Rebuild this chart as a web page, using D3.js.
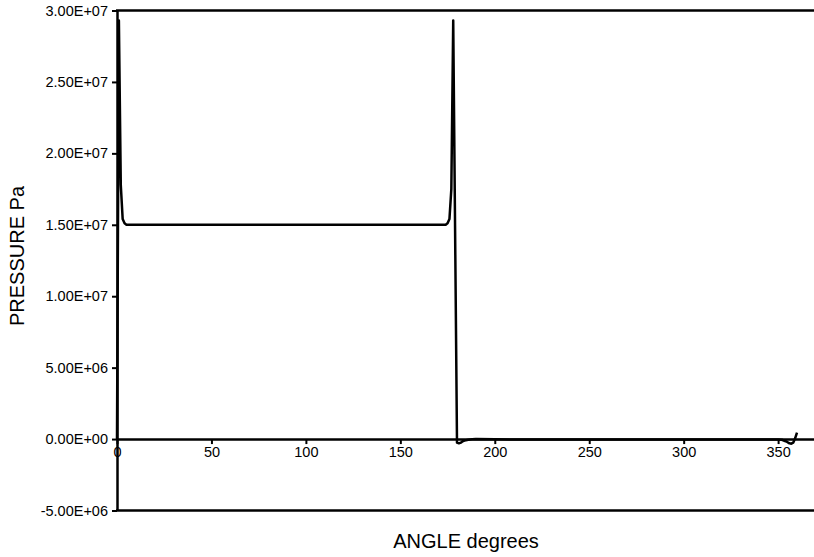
<!DOCTYPE html>
<html>
<head>
<meta charset="utf-8">
<script src="https://cdn.jsdelivr.net/npm/d3@7"></script>
<style>
  html, body { margin: 0; padding: 0; background: #fff; }
  svg { display: block; font-family: "Liberation Sans", Arial, Helvetica, sans-serif; }
</style>
</head>
<body>
<svg id="chart" width="814" height="557"></svg>
<script>
// Crank angle (degrees) and chamber pressure (Pa)
const angles = [0, 1, 2, 3, 4, 5, 6, 8, 10, 20, 30, 40, 50, 60, 70, 80, 90, 100, 110, 120,
  130, 140, 150, 160, 170, 172, 174, 175, 176, 177, 178, 179, 180, 181, 182, 183, 184, 186,
  188, 190, 200, 210, 220, 230, 240, 250, 260, 270, 280, 290, 300, 310, 320, 330, 340, 345,
  350, 352, 354, 355, 356, 357, 358, 359, 360];
const pressure = [0, 2.93e7, 1.78e7, 1.54e7, 1.51e7, 1.50e7, 1.50e7, 1.50e7, 1.50e7, 1.50e7,
  1.50e7, 1.50e7, 1.50e7, 1.50e7, 1.50e7, 1.50e7, 1.50e7, 1.50e7, 1.50e7, 1.50e7,
  1.50e7, 1.50e7, 1.50e7, 1.50e7, 1.50e7, 1.50e7, 1.50e7, 1.51e7, 1.54e7, 1.75e7,
  2.93e7, 1.45e7, -2.5e5, -3.0e5, -2.5e5, -1.5e5, -1.0e5, -5e4,
  -2e4, 0, -2e4, -3e4, -3e4, -3e4, -3e4, -3e4, -3e4, -3e4, -3e4, -3e4, -3e4, -3e4,
  -3e4, -3e4, -3e4, -3e4, -3e4, -5e4, -1.5e5, -2.2e5, -3.0e5, -3.2e5, -2.5e5, 5e4, 4.5e5];

const xTicks = [0, 50, 100, 150, 200, 250, 300, 350];
const yTicks = [-5e6, 0, 5e6, 1e7, 1.5e7, 2e7, 2.5e7, 3e7];

const xTitle = "ANGLE degrees";
const yTitle = "PRESSURE Pa";

const svg = d3.select("#chart");
const plotLeft = 117, plotRight = 814, plotTop = 10.5, plotBottom = 510.5;

const x = d3.scaleLinear().domain([0, 369]).range([plotLeft, plotRight]);
const y = d3.scaleLinear().domain([-5e6, 3e7]).range([plotBottom, plotTop]);

// Excel-style scientific labels, e.g. 1.50E+07
const sci = v => {
  const [m, e] = v.toExponential(2).split("e");
  const sign = e[0] === "-" ? "-" : "+";
  const ex = e.replace(/^[+-]/, "").padStart(2, "0");
  return `${m}E${sign}${ex}`;
};

// top and bottom frame lines
svg.append("line").attr("x1", plotLeft - 1).attr("x2", plotRight).attr("y1", plotTop).attr("y2", plotTop)
  .attr("stroke", "#000").attr("stroke-width", 2.5);
svg.append("line").attr("x1", plotLeft - 1).attr("x2", plotRight).attr("y1", plotBottom).attr("y2", plotBottom)
  .attr("stroke", "#000").attr("stroke-width", 2.5);

// y axis
const yAxis = svg.append("g")
  .attr("transform", `translate(${plotLeft},0)`)
  .call(d3.axisLeft(y).tickValues(yTicks).tickFormat(sci).tickSize(5).tickSizeOuter(0).tickPadding(4));
yAxis.select(".domain").attr("stroke-width", 2.5);
yAxis.selectAll(".tick line").attr("stroke-width", 2);
yAxis.selectAll("text").attr("font-size", 14.5).attr("fill", "#000")
  .attr("font-family", "'Liberation Sans', Arial, sans-serif");

// x axis crossing at zero pressure
const xAxis = svg.append("g")
  .attr("transform", `translate(0,${y(0)})`)
  .call(d3.axisBottom(x).tickValues(xTicks).tickFormat(d3.format("d")).tickSize(5).tickSizeOuter(0).tickPadding(3));
xAxis.select(".domain").attr("stroke-width", 2.5);
xAxis.selectAll(".tick line").attr("stroke-width", 2);
xAxis.selectAll("text").attr("font-size", 14.5).attr("fill", "#000")
  .attr("font-family", "'Liberation Sans', Arial, sans-serif");

// pressure trace
const line = d3.line().x((d, i) => x(angles[i])).y(d => y(d));
svg.append("path")
  .datum(pressure)
  .attr("d", line)
  .attr("fill", "none")
  .attr("stroke", "#000")
  .attr("stroke-width", 2.5)
  .attr("stroke-linejoin", "round");

// axis titles
svg.append("text")
  .attr("x", 466)
  .attr("y", 548)
  .attr("text-anchor", "middle")
  .attr("font-size", 20)
  .text(xTitle);

svg.append("text")
  .attr("transform", "translate(24,256) rotate(-90)")
  .attr("text-anchor", "middle")
  .attr("font-size", 20)
  .text(yTitle);
</script>
</body>
</html>
